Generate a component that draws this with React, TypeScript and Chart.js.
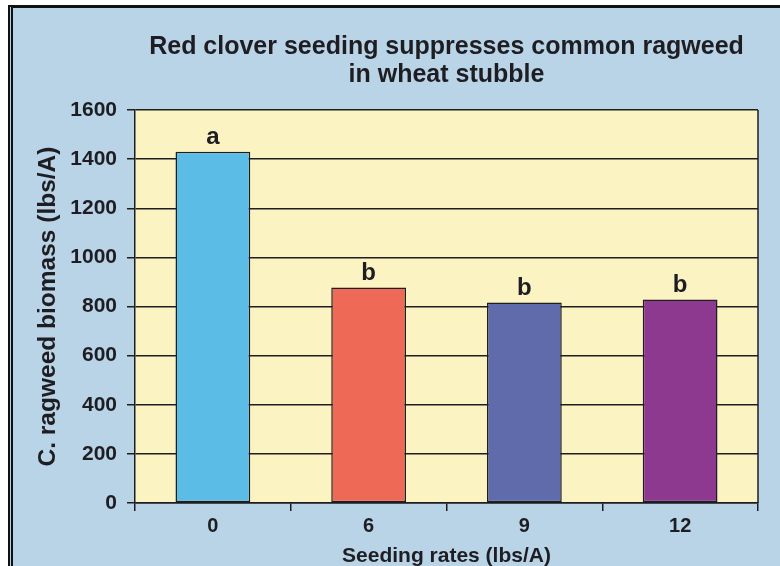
import React, { useEffect, useRef } from "react";
import { Chart, registerables } from "chart.js";

Chart.register(...registerables);

const categories = ["0", "6", "9", "12"];
const biomass = [1430, 877, 816, 828];
const letters = ["a", "b", "b", "b"];
const barColors = ["#5bbde6", "#ef6a56", "#5f6bab", "#8d3990"];
const yMin = 0;
const yMax = 1600;
const yStep = 200;
const titleLines = ["Red clover seeding suppresses common ragweed", "in wheat stubble"];
const yTitle = "C. ragweed biomass (lbs/A)";
const xTitle = "Seeding rates (lbs/A)";

const FONT = "'Liberation Sans', Arial, sans-serif";
const INK = "#1e1e22";
const PLOT_BG = "#fbf3c2";
const PAGE_BG = "#b9d3e7";

export default function App() {
  const ref = useRef<HTMLCanvasElement | null>(null);

  useEffect(() => {
    if (!ref.current) return;
    const decor = {
      id: "decor",
      beforeDraw(chart: any) {
        const { ctx, chartArea: a } = chart;
        ctx.save();
        ctx.fillStyle = PLOT_BG;
        ctx.fillRect(a.left, a.top, a.right - a.left, a.bottom - a.top);
        ctx.restore();
      },
      afterDatasetsDraw(chart: any) {
        const { ctx, chartArea: a } = chart;
        const meta = chart.getDatasetMeta(0);
        ctx.save();
        ctx.fillStyle = INK;
        ctx.font = `bold 24px ${FONT}`;
        ctx.textAlign = "center";
        ctx.textBaseline = "alphabetic";
        meta.data.forEach((bar: any, i: number) => {
          ctx.fillText(letters[i], bar.x, bar.y - 8);
        });
        // right border of plot
        ctx.strokeStyle = INK;
        ctx.lineWidth = 1.5;
        ctx.beginPath();
        ctx.moveTo(a.right, a.top);
        ctx.lineTo(a.right, a.bottom);
        ctx.stroke();
        // main title
        const cx = (a.left + a.right) / 2;
        ctx.font = `bold 25px ${FONT}`;
        ctx.fillText(titleLines[0], cx, 54);
        ctx.fillText(titleLines[1], cx, 82);
        // x title
        ctx.font = `bold 21px ${FONT}`;
        ctx.fillText(xTitle, cx, 562);
        // y title
        ctx.translate(55, (a.top + a.bottom) / 2);
        ctx.rotate(-Math.PI / 2);
        ctx.font = `bold 24.5px ${FONT}`;
        ctx.fillText(yTitle, 0, 0);
        ctx.restore();
      },
    };

    const chart = new Chart(ref.current, {
      type: "bar",
      data: {
        labels: categories,
        datasets: [
          {
            data: biomass,
            backgroundColor: barColors,
            borderColor: INK,
            borderWidth: 1.5,
            borderSkipped: false,
            barPercentage: 0.48,
            categoryPercentage: 1,
          },
        ],
      },
      options: {
        animation: false,
        responsive: true,
        maintainAspectRatio: false,
        layout: { padding: { top: 110, right: 22, left: 0, bottom: 0 } },
        plugins: { legend: { display: false }, title: { display: false }, tooltip: { enabled: false } },
        scales: {
          x: {
            offset: true,
            afterFit: (s: any) => {
              s.height = 63;
            },
            grid: {
              offset: true,
              drawOnChartArea: false,
              drawTicks: true,
              tickLength: 8,
              color: INK,
              lineWidth: 1.5,
            },
            border: { display: true, color: INK, width: 1.5 },
            ticks: { color: INK, font: { family: FONT, size: 20, weight: "bold" }, padding: 3 },
          },
          y: {
            min: yMin,
            max: yMax,
            afterFit: (s: any) => {
              s.width = 135;
            },
            grid: { color: INK, lineWidth: 1.5, tickLength: 8, drawTicks: true },
            border: { display: true, color: INK, width: 1.5 },
            ticks: {
              stepSize: yStep,
              color: INK,
              padding: 10,
              font: { family: FONT, size: 21, weight: "bold" },
              callback: (v: any) => String(v),
            },
          },
        },
      },
      plugins: [decor],
    });
    return () => chart.destroy();
  }, []);

  return (
    <div style={{ position: "fixed", left: 0, top: 0, width: 780, height: 566, background: "#ffffff", overflow: "hidden" }}>
      <div
        style={{
          position: "absolute",
          left: 8,
          top: 5,
          right: 0,
          bottom: 0,
          background: PAGE_BG,
          borderTop: "3px solid #111",
          borderLeft: "5px double #111",
        }}
      />
      <div style={{ position: "absolute", left: 0, top: 0, width: 780, height: 566 }}>
        <canvas ref={ref} />
      </div>
    </div>
  );
}
